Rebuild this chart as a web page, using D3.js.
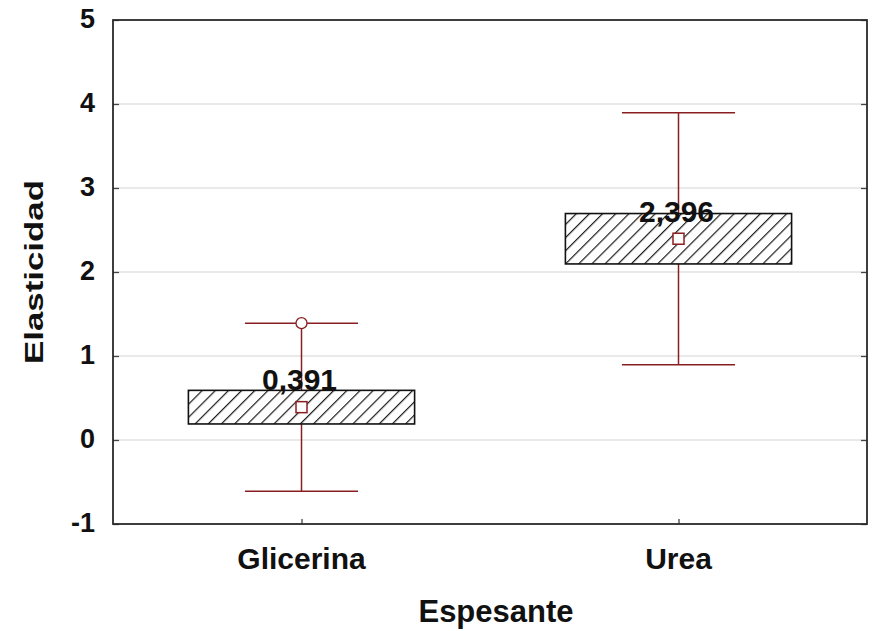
<!DOCTYPE html>
<html>
<head>
<meta charset="utf-8">
<script src="https://cdn.jsdelivr.net/npm/d3@7"></script>
<style>
  html, body { margin: 0; padding: 0; background: #fff; }
  svg { display: block; }
  text { font-family: "Liberation Sans", Arial, sans-serif; font-weight: bold; fill: #111; }
</style>
</head>
<body>
<svg id="chart" width="872" height="631"></svg>
<script>
// Elasticity by thickener: mean, mean ± SE box, mean ± SD whiskers
const categories   = ["Glicerina", "Urea"];
const means        = [0.391, 2.396];
const boxLow       = [0.191, 2.096];
const boxHigh      = [0.591, 2.696];
const whiskerLow   = [-0.609, 0.896];
const whiskerHigh  = [1.391, 3.896];
const markerPoints = [{ cat: "Glicerina", value: 1.391 }];
const yTicks       = [-1, 0, 1, 2, 3, 4, 5];
const meanLabels   = ["0,391", "2,396"];

const svg = d3.select("#chart");
const m = { left: 113, right: 5, top: 20, bottom: 107 };
const W = 872, H = 631;

const x = d3.scalePoint().domain(categories).range([m.left, W - m.right]).padding(0.5);
const y = d3.scaleLinear().domain([-1, 5]).range([H - m.bottom, m.top]);
const step = x.step();
const boxW = step * 0.6;
const capW = step * 0.3;

// diagonal hatch pattern for the boxes
const defs = svg.append("defs");
const hs = 9.3;
const pat = defs.append("pattern")
  .attr("id", "hatch").attr("patternUnits", "userSpaceOnUse")
  .attr("width", hs).attr("height", hs)
  .attr("patternTransform", "rotate(45)");
pat.append("rect").attr("width", hs).attr("height", hs).attr("fill", "#fff");
pat.append("line").attr("x1", 0.6).attr("y1", 0).attr("x2", 0.6).attr("y2", hs)
  .attr("stroke", "#1a1a1a").attr("stroke-width", 1.2);

// grid
svg.append("g").selectAll("line").data(yTicks.filter(t => t > -1 && t < 5)).join("line")
  .attr("x1", m.left).attr("x2", W - m.right)
  .attr("y1", d => y(d)).attr("y2", d => y(d))
  .attr("stroke", "#d4d4d4").attr("stroke-width", 1.2);

// left / right / bottom axes with inward ticks
const leftAxis = d3.axisRight(y).tickValues(yTicks).tickSize(6).tickFormat("");
const gl = svg.append("g").attr("transform", `translate(${m.left},0)`).call(leftAxis);
const rightAxis = d3.axisLeft(y).tickValues(yTicks).tickSize(6).tickFormat("");
const gr = svg.append("g").attr("transform", `translate(${W - m.right},0)`).call(rightAxis);
const bottomAxis = d3.axisTop(x).tickSize(5).tickFormat("");
const gb = svg.append("g").attr("transform", `translate(0,${y(-1)})`).call(bottomAxis);
[gl, gr, gb].forEach(g => {
  g.select(".domain").remove();
  g.selectAll(".tick line").attr("stroke", "#444").attr("stroke-width", 1.3);
});

// tick labels
svg.append("g").selectAll("text").data(yTicks).join("text")
  .attr("x", 95).attr("y", d => y(d) - 1)
  .attr("text-anchor", "end").attr("dominant-baseline", "central")
  .attr("font-size", 27).text(d => d);

svg.append("g").selectAll("text").data(categories).join("text")
  .attr("x", d => x(d)).attr("y", 569)
  .attr("text-anchor", "middle").attr("font-size", 30).text(d => d);

// axis titles
svg.append("text").attr("x", 496).attr("y", 622).attr("text-anchor", "middle")
  .attr("font-size", 31).text("Espesante");
svg.append("text").attr("transform", `translate(43,272) rotate(-90)`)
  .attr("text-anchor", "middle").attr("font-size", 26)
  .attr("textLength", 184).attr("lengthAdjust", "spacingAndGlyphs").text("Elasticidad");

const whiskColor = "#8a1f22";
const data = categories.map((c, i) => ({
  c, mean: means[i], lo: boxLow[i], hi: boxHigh[i], wl: whiskerLow[i], wh: whiskerHigh[i], label: meanLabels[i]
}));

const g = svg.append("g");
// whiskers
g.selectAll(".wv").data(data).join("line")
  .attr("x1", d => x(d.c)).attr("x2", d => x(d.c))
  .attr("y1", d => y(d.wl)).attr("y2", d => y(d.wh))
  .attr("stroke", whiskColor).attr("stroke-width", 1.5);
g.selectAll(".capT").data(data).join("line")
  .attr("x1", d => x(d.c) - capW / 2).attr("x2", d => x(d.c) + capW / 2)
  .attr("y1", d => y(d.wh)).attr("y2", d => y(d.wh))
  .attr("stroke", whiskColor).attr("stroke-width", 1.5);
g.selectAll(".capB").data(data).join("line")
  .attr("x1", d => x(d.c) - capW / 2).attr("x2", d => x(d.c) + capW / 2)
  .attr("y1", d => y(d.wl)).attr("y2", d => y(d.wl))
  .attr("stroke", whiskColor).attr("stroke-width", 1.5);

// boxes
g.selectAll(".box").data(data).join("rect")
  .attr("x", d => x(d.c) - boxW / 2).attr("width", boxW)
  .attr("y", d => y(d.hi)).attr("height", d => y(d.lo) - y(d.hi))
  .attr("fill", "url(#hatch)").attr("stroke", "#111").attr("stroke-width", 1.6);

// extra point markers
g.selectAll(".pt").data(markerPoints).join("circle")
  .attr("cx", d => x(d.cat)).attr("cy", d => y(d.value)).attr("r", 5.5)
  .attr("fill", "#fff").attr("stroke", whiskColor).attr("stroke-width", 1.3);

// mean markers
g.selectAll(".mean").data(data).join("rect")
  .attr("x", d => x(d.c) - 5.5).attr("y", d => y(d.mean) - 5.5)
  .attr("width", 11).attr("height", 11)
  .attr("fill", "#fff").attr("stroke", whiskColor).attr("stroke-width", 1.5);

// mean value labels
g.selectAll(".lbl").data(data).join("text")
  .attr("x", d => x(d.c) - 2).attr("y", d => y(d.mean) - 17)
  .attr("text-anchor", "middle").attr("font-size", 30).text(d => d.label);

// frame
svg.append("rect").attr("x", m.left).attr("y", m.top)
  .attr("width", W - m.right - m.left).attr("height", y(-1) - m.top)
  .attr("fill", "none").attr("stroke", "#2a2a2a").attr("stroke-width", 1.8);
</script>
</body>
</html>
